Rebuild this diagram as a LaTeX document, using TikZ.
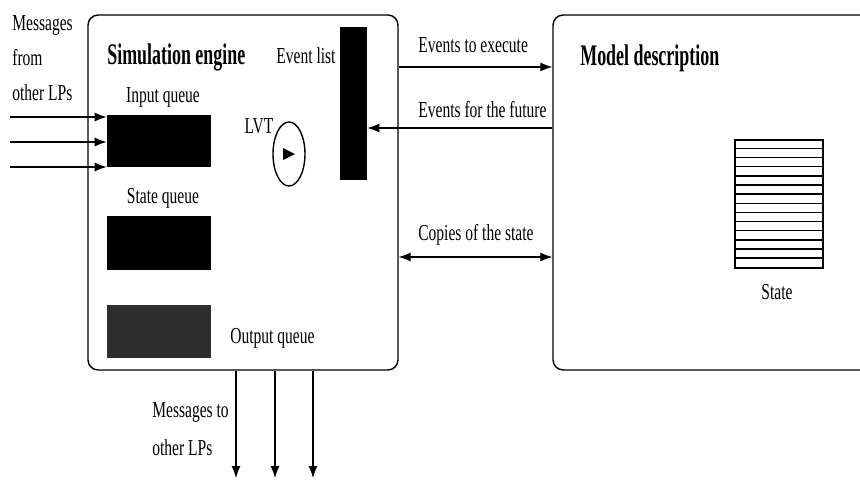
\documentclass[tikz,border=0pt]{standalone}
\usepackage{fontspec}
\setmainfont{Liberation Serif}[FakeStretch=0.68]
\newfontfamily\headfont{Liberation Serif}[FakeStretch=0.6]
\usetikzlibrary{shapes.geometric, arrows.meta}

\begin{document}
\begin{tikzpicture}[x=0.02cm, y=-0.02cm,
		box/.style={draw, thick, rounded corners=0.2cm, inner sep=0pt},
		queue/.style={fill=black, inner sep=0pt, minimum width=2.08cm},
		lbl/.style={font=\fontsize{13}{20}\selectfont, inner sep=0pt},
		head/.style={font=\headfont\fontsize{17}{20}\selectfont\bfseries, inner sep=0pt},
		arr/.style={semithick, -{Latex[length=2.4mm, width=1.8mm]}},
		darr/.style={semithick, {Latex[length=2.4mm, width=1.8mm]}-{Latex[length=2.4mm, width=1.8mm]}}]
			% Frame of the picture
			\clip (0,0) rectangle (860,480);
			
			% Draw the two blocks
			\node[box, minimum width=6.2cm, minimum height=7.1cm] (engine) at (243,192.5) {};
			\node[box, minimum width=6.94cm, minimum height=7.1cm] (model) at (726.5,192.5) {};
			\node[head, anchor=base west] (engtitle) at (107,64) {Simulation engine};
			\node[head, anchor=base west] (modtitle) at (580,66) {Model description};
			
			% Queues of the engine
			\node[queue, minimum height=1.04cm] (inq) at (159,141) {};
			\node[queue, minimum height=1.08cm] (stq) at (159,243) {};
			\node[queue, fill=black!82, minimum height=1.06cm] (outq) at (159,331.5) {};
			\node[lbl, anchor=base] (inqtxt) at (163,102) {Input queue};
			\node[lbl, anchor=base] (stqtxt) at (163,203) {State queue};
			\node[lbl, anchor=base west] (outqtxt) at (230,343) {Output queue};
			
			% Event list
			\node[queue, minimum width=0.54cm, minimum height=3.06cm] (evl) at (353.5,103.5) {};
			\node[lbl, anchor=base] (evltxt) at (306,63) {Event list};
			
			% LVT clock
			\node[draw, thick, ellipse, inner sep=0pt, minimum width=0.64cm, minimum height=1.28cm] (lvt) at (289,154) {};
			\fill (283,148) -- (295,154) -- (283,160) -- cycle;
			\node[lbl, anchor=base] (lvttxt) at (259,133) {LVT};
			
			% State of the model
			\node[draw, thick, inner sep=0pt, minimum width=1.76cm, minimum height=2.56cm] (state) at (779,204) {};
			\foreach \i in {1,...,13}
				\draw[thick] ([yshift=-\i*0.1829cm]state.north west) -- ([yshift=-\i*0.1829cm]state.north east);
			\node[lbl, anchor=base] (statetxt) at (777,299) {State};
			
			% Incoming messages
			\node[lbl, anchor=north west, align=left] (msgin) at (12,15) {Messages\\from\\other LPs};
			\coordinate (in1) at (10,117);
			\coordinate (in2) at (10,142);
			\coordinate (in3) at (10,167);
			\draw[arr] (in1) -- (in1 -| inq.west);
			\draw[arr] (in2) -- (in2 -| inq.west);
			\draw[arr] (in3) -- (in3 -| inq.west);
			
			% Outgoing messages
			\node[lbl, anchor=north west, align=left, font=\fontsize{13}{21.5}\selectfont] (msgout) at (152,402) {Messages to\\other LPs};
			\coordinate (out1) at (236,478);
			\coordinate (out2) at (275,478);
			\coordinate (out3) at (313,478);
			\draw[arr] (engine.south -| out1) -- (out1);
			\draw[arr] (engine.south -| out2) -- (out2);
			\draw[arr] (engine.south -| out3) -- (out3);
			
			% Links between the blocks
			\coordinate (ex) at (475,67);
			\coordinate (fu) at (475,128);
			\coordinate (cp) at (475,257);
			\draw[arr] (engine.east |- ex) -- (model.west |- ex);
			\draw[arr] (model.west |- fu) -- (evl.east |- fu);
			\draw[darr] (engine.east |- cp) -- (model.west |- cp);
			\node[lbl, anchor=base west] (extxt) at (418,52) {Events to execute};
			\node[lbl, anchor=base west] (futxt) at (418,117) {Events for the future};
			\node[lbl, anchor=base west] (cptxt) at (418,240) {Copies of the state};
			
		\end{tikzpicture}
\end{document}
